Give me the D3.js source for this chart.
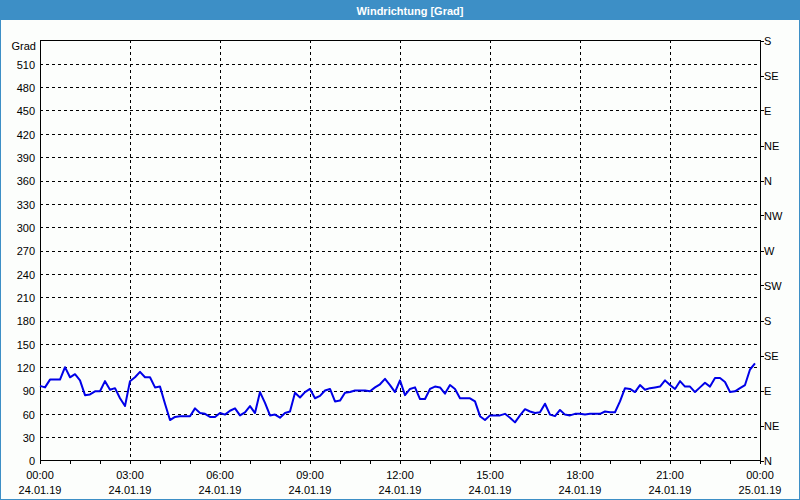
<!DOCTYPE html>
<html>
<head>
<meta charset="utf-8">
<script src="https://cdn.jsdelivr.net/npm/d3@7/dist/d3.min.js"></script>
<style>
  html, body { margin: 0; padding: 0; background: #fcfefc; }
  svg { display: block; }
  text { font-family: "Liberation Sans", Arial, sans-serif; fill: #000; }
</style>
</head>
<body>
<svg id="chart" width="800" height="500"></svg>
<script>
// ---- data ----
const title = "Windrichtung [Grad]";
const unitLabel = "Grad";
const startTime = "2019-01-24 00:00";
const endTime = "2019-01-25 00:00";
const sampleMinutes = 10;
const windDirection = [
  96, 94, 104, 104, 104, 120, 107, 111, 103, 84, 85, 89, 89, 102, 91, 93, 80, 70,
  102, 107, 114, 107, 107, 94, 95, 73, 52, 56, 57, 57, 57, 67, 61, 60, 56, 56,
  61, 59, 64, 67, 58, 62, 70, 61, 88, 74, 58, 59, 55, 61, 63, 87, 81, 88,
  92, 80, 83, 90, 92, 76, 77, 87, 88, 90, 90, 90, 89, 94, 98, 105, 97, 88,
  103, 84, 92, 94, 79, 79, 92, 95, 94, 86, 97, 92, 80, 80, 80, 76, 57, 52,
  58, 58, 58, 60, 55, 49, 58, 66, 63, 61, 62, 73, 59, 57, 65, 59, 58, 60,
  60, 59, 60, 60, 60, 63, 62, 62, 76, 93, 92, 88, 97, 91, 93, 94, 95, 103,
  97, 92, 102, 95, 95, 88, 94, 100, 95, 106, 106, 101, 88, 89, 93, 97, 117, 125
];
const leftTicks = [0, 30, 60, 90, 120, 150, 180, 210, 240, 270, 300, 330, 360, 390, 420, 450, 480, 510];
const rightTickValues = [0, 45, 90, 135, 180, 225, 270, 315, 360, 405, 450, 495, 540];
const rightTickLabels = ["N", "NE", "E", "SE", "S", "SW", "W", "NW", "N", "NE", "E", "SE", "S"];
const yMax = 540;

// ---- setup ----
const parse = d3.timeParse("%Y-%m-%d %H:%M");
const t0 = parse(startTime), t1 = parse(endTime);
const series = windDirection.map((v, i) => ({ t: d3.timeMinute.offset(t0, i * sampleMinutes), v }));

const svg = d3.select("#chart");
const L = 40, R = 760, T = 40, B = 460;
const x = d3.scaleTime().domain([t0, t1]).range([L, R]);
const y = d3.scaleLinear().domain([0, yMax]).range([B + 0.5, T + 0.5]);
const cr = v => Math.round(v) + 0.5;

// background
svg.append("rect").attr("width", 800).attr("height", 500).attr("fill", "#fcfefc");

// title bar
svg.append("rect").attr("x", 0).attr("y", 0).attr("width", 800).attr("height", 20).attr("fill", "#3d8fc6");
svg.append("text").attr("x", 410).attr("y", 15).attr("text-anchor", "middle")
  .style("font-weight", "bold").style("font-size", "11px").style("fill", "#fff").text(title);

// window borders
svg.append("line").attr("x1", 0.5).attr("x2", 0.5).attr("y1", 20).attr("y2", 500).attr("stroke", "#3d8fc6");
svg.append("line").attr("x1", 799.5).attr("x2", 799.5).attr("y1", 20).attr("y2", 500).attr("stroke", "#3d8fc6");
svg.append("line").attr("x1", 0).attr("x2", 800).attr("y1", 499.5).attr("y2", 499.5).attr("stroke", "#3d8fc6");

// horizontal grid
const gridY = leftTicks.filter(v => v > 0);
svg.append("g").selectAll("line").data(gridY).join("line")
  .attr("x1", L).attr("x2", R).attr("y1", d => cr(y(d))).attr("y2", d => cr(y(d)))
  .attr("stroke", "#000").attr("stroke-dasharray", "3,3");

// vertical grid
const majorTimes = d3.timeHour.every(3).range(t0, d3.timeMinute.offset(t1, 1));
svg.append("g").selectAll("line").data(majorTimes.slice(1, -1)).join("line")
  .attr("x1", d => cr(x(d))).attr("x2", d => cr(x(d))).attr("y1", T).attr("y2", B + 4)
  .attr("stroke", "#000").attr("stroke-dasharray", "3,3");

// minor hour ticks on the bottom axis
const hourTimes = d3.timeHour.every(1).range(t0, d3.timeMinute.offset(t1, 1));
svg.append("g").selectAll("line").data(hourTimes).join("line")
  .attr("x1", d => cr(x(d))).attr("x2", d => cr(x(d))).attr("y1", B).attr("y2", B + 4)
  .attr("stroke", "#000");

// frame
svg.append("rect").attr("x", L + 0.5).attr("y", T + 0.5).attr("width", R - L).attr("height", B - T)
  .attr("fill", "none").attr("stroke", "#000");

// left axis labels
svg.append("g").selectAll("text").data(leftTicks).join("text")
  .attr("x", 35).attr("y", d => y(d) + 1).attr("dy", "0.35em").attr("text-anchor", "end")
  .style("font-size", "11px").text(d => d);
svg.append("text").attr("x", 36).attr("y", 46).attr("dy", "0.35em").attr("text-anchor", "end")
  .style("font-size", "11px").text(unitLabel);

// right axis
svg.append("g").selectAll("line").data(rightTickValues).join("line")
  .attr("x1", R).attr("x2", R + 4).attr("y1", d => cr(y(d))).attr("y2", d => cr(y(d)))
  .attr("stroke", "#000");
svg.append("g").selectAll("text").data(rightTickValues).join("text")
  .attr("x", 764).attr("y", d => y(d) + 1).attr("dy", "0.35em")
  .style("font-size", "11px").text((d, i) => rightTickLabels[i]);

// bottom labels
const fmtT = d3.timeFormat("%H:%M"), fmtD = d3.timeFormat("%d.%m.%y");
const lab = svg.append("g").selectAll("g").data(majorTimes).join("g")
  .attr("transform", d => `translate(${x(d)},0)`);
lab.append("text").attr("y", 475).attr("dy", "0.35em").attr("text-anchor", "middle")
  .style("font-size", "11px").text(fmtT);
lab.append("text").attr("y", 490).attr("dy", "0.35em").attr("text-anchor", "middle")
  .style("font-size", "11px").text(fmtD);

// data line
const line = d3.line().x(d => x(d.t)).y(d => y(d.v));
svg.append("path").datum(series).attr("d", line)
  .attr("fill", "none").attr("stroke", "#0000e8").attr("stroke-width", 2).attr("stroke-linejoin", "round");
</script>
</body>
</html>
